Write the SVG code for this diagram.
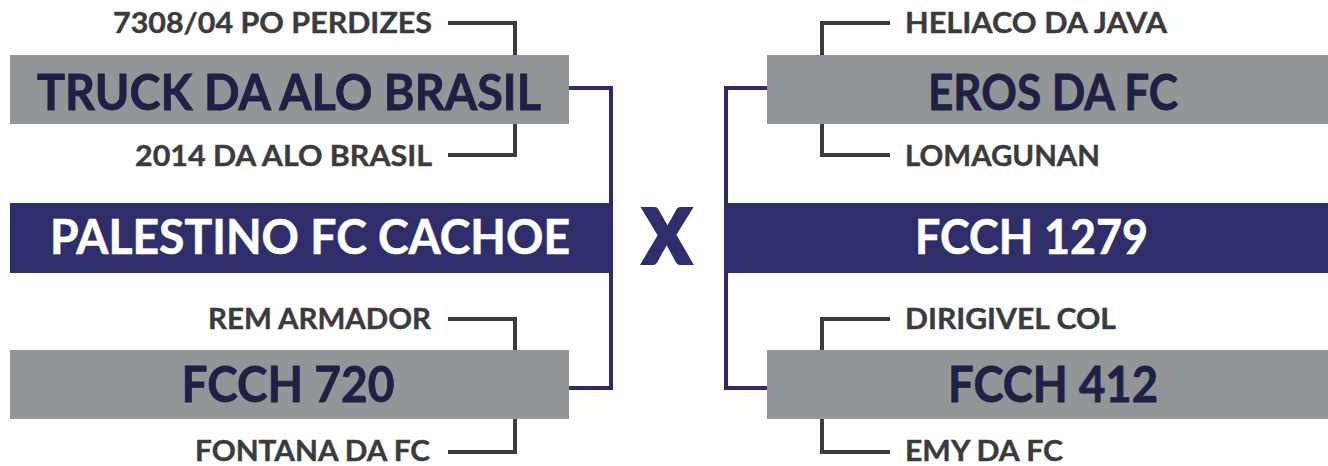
<svg xmlns="http://www.w3.org/2000/svg" width="1328" height="466" viewBox="0 0 1328 466">
<style>
.box{fill:#939698}
.bar{fill:#302d6b}
.small{font-family:Lato,"Liberation Sans",sans-serif;font-weight:700;font-size:28px;fill:#3b3b3e;stroke:#3b3b3e;stroke-width:0.4}
.big{font-family:Lato,"Liberation Sans",sans-serif;font-weight:700;font-size:50px;fill:#221f45;stroke:#221f45;stroke-width:0.8;text-anchor:middle}
.white{font-family:Lato,"Liberation Sans",sans-serif;font-weight:700;font-size:48px;fill:#ffffff;stroke:#ffffff;stroke-width:0.6;text-anchor:middle}
.br{fill:none;stroke:#3b3b3e;stroke-width:4}
.bl{fill:none;stroke:#2e2a6b;stroke-width:4}
</style>
<rect width="1328" height="466" fill="#ffffff"/>
<g id="connectors">
<polyline class="br" points="448,23 515,23 515,55"/>
<polyline class="br" points="515,124 515,155 448,155"/>
<polyline class="br" points="448,319 515,319 515,350"/>
<polyline class="br" points="515,419 515,452 448,452"/>
<polyline class="br" points="890,23 822,23 822,55"/>
<polyline class="br" points="822,124 822,155 890,155"/>
<polyline class="br" points="890,319 822,319 822,350"/>
<polyline class="br" points="822,419 822,452 890,452"/>
<polyline class="bl" points="569,88 611,88 611,388 569,388"/>
<polyline class="bl" points="767,88 726,88 726,388 767,388"/>
</g>
<g id="node-truck">
<rect class="box" x="10" y="55" width="559" height="69"/>
<text class="big" x="289" y="110" textLength="504" lengthAdjust="spacingAndGlyphs">TRUCK DA ALO BRASIL</text>
</g>
<g id="node-fcch720">
<rect class="box" x="10" y="350" width="559" height="69"/>
<text class="big" x="288" y="402" textLength="213" lengthAdjust="spacingAndGlyphs">FCCH 720</text>
</g>
<g id="node-eros">
<rect class="box" x="767" y="55" width="561" height="69"/>
<text class="big" x="1053" y="110" textLength="250" lengthAdjust="spacingAndGlyphs">EROS DA FC</text>
</g>
<g id="node-fcch412">
<rect class="box" x="767" y="350" width="561" height="69"/>
<text class="big" x="1053" y="402" textLength="210" lengthAdjust="spacingAndGlyphs">FCCH 412</text>
</g>
<g id="node-palestino">
<rect class="bar" x="10" y="203" width="601" height="70"/>
<text class="white" x="310" y="254" textLength="520" lengthAdjust="spacingAndGlyphs">PALESTINO FC CACHOE</text>
</g>
<g id="node-fcch1279">
<rect class="bar" x="725" y="203" width="603" height="70"/>
<text class="white" x="1031.5" y="254" textLength="233" lengthAdjust="spacingAndGlyphs">FCCH 1279</text>
</g>
<g id="vs">
<text x="667" y="263" font-family="Lato,'Liberation Sans',sans-serif" font-weight="900" font-size="74" fill="#302d6b" stroke="#302d6b" stroke-width="4" stroke-linejoin="miter" text-anchor="middle" textLength="47" lengthAdjust="spacingAndGlyphs">X</text>
</g>
<g id="labels">
<text class="small" x="113" y="33" textLength="319" lengthAdjust="spacingAndGlyphs">7308/04 PO PERDIZES</text>
<text class="small" x="135" y="166" textLength="297" lengthAdjust="spacingAndGlyphs">2014 DA ALO BRASIL</text>
<text class="small" x="208" y="329" textLength="223" lengthAdjust="spacingAndGlyphs">REM ARMADOR</text>
<text class="small" x="195" y="461" textLength="235" lengthAdjust="spacingAndGlyphs">FONTANA DA FC</text>
<text class="small" x="905" y="33" textLength="262" lengthAdjust="spacingAndGlyphs">HELIACO DA JAVA</text>
<text class="small" x="905" y="166" textLength="195" lengthAdjust="spacingAndGlyphs">LOMAGUNAN</text>
<text class="small" x="905" y="329" textLength="211" lengthAdjust="spacingAndGlyphs">DIRIGIVEL COL</text>
<text class="small" x="905" y="461" textLength="158" lengthAdjust="spacingAndGlyphs">EMY DA FC</text>
</g>
</svg>
